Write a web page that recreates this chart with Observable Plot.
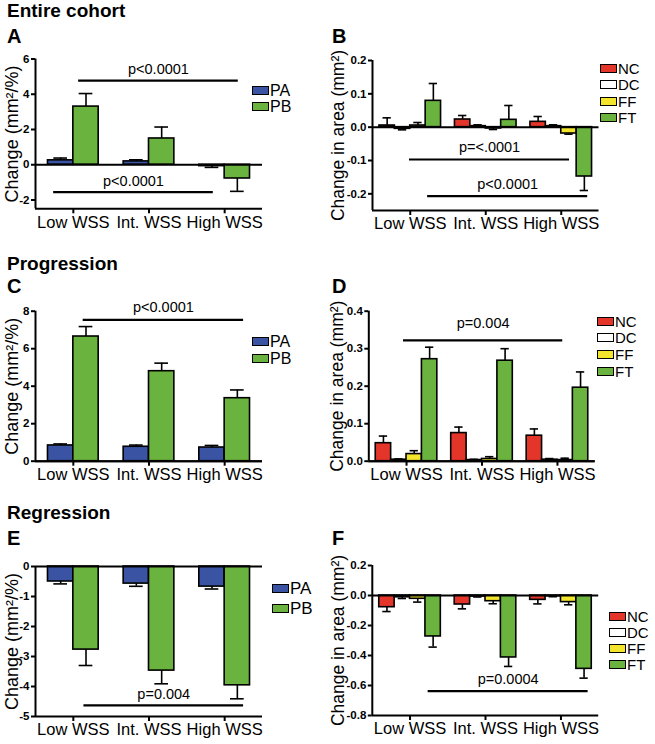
<!DOCTYPE html>
<html>
<head>
<meta charset="utf-8">
<script src="https://cdn.jsdelivr.net/npm/d3@7"></script>
<script src="https://cdn.jsdelivr.net/npm/@observablehq/plot@0.6"></script>
<style>
  body { margin: 0; background: #fff; }
  #fig { position: relative; width: 655px; height: 744px; font-family: 'Liberation Sans', Arial, Helvetica, sans-serif; overflow: hidden; }
  .abs { position: absolute; }
  .title { font-weight: bold; font-size: 19px; line-height: 19px; white-space: nowrap; }
  .letter { font-weight: bold; font-size: 20px; line-height: 20px; }
  .leg { position: absolute; display: flex; align-items: center; height: 13px; line-height: 13px; white-space: nowrap; }
  .sw { width: 17px; height: 9px; box-sizing: border-box; border: 1.8px solid #000; margin-right: 1px; }
</style>
</head>
<body>
<div id="fig"></div>
<script>
// ---------- data ----------
const categories = ["Low WSS", "Int. WSS", "High WSS"];
const plaqueSeries = ["PA", "PB"];
const tissueSeries = ["NC", "DC", "FF", "FT"];

// A: entire cohort, plaque change (mm²/%)
const entirePA    = [0.25, 0.19, -0.08];
const entirePAErr = [0.38, 0.28, -0.15];
const entirePB    = [3.30, 1.49, -0.78];
const entirePBErr = [4.04, 2.14, -1.51];

// B: entire cohort, change in area (mm²)
const entireNC    = [0.005, 0.023, 0.016];
const entireNCErr = [0.028, 0.035, 0.032];
const entireDC    = [-0.005, 0.003, 0.003];
const entireDCErr = [-0.008, 0.007, 0.007];
const entireFF    = [0.005, -0.004, -0.019];
const entireFFErr = [0.014, -0.007, -0.021];
const entireFT    = [0.079, 0.022, -0.148];
const entireFTErr = [0.131, 0.065, -0.190];

// C: progression, plaque change
const progPA    = [0.84, 0.77, 0.73];
const progPAErr = [0.92, 0.86, 0.84];
const progPB    = [6.65, 4.80, 3.36];
const progPBErr = [7.18, 5.23, 3.80];

// D: progression, change in area
const progNC    = [0.048, 0.075, 0.068];
const progNCErr = [0.067, 0.091, 0.086];
const progDC    = [0.004, 0.003, 0.004];
const progDCErr = [0.006, 0.005, 0.007];
const progFF    = [0.019, 0.006, 0.003];
const progFFErr = [0.028, 0.012, 0.008];
const progFT    = [0.272, 0.268, 0.196];
const progFTErr = [0.304, 0.300, 0.238];

// E: regression, plaque change
const regPA    = [-0.50, -0.57, -0.67];
const regPAErr = [-0.58, -0.66, -0.75];
const regPB    = [-2.77, -3.47, -3.96];
const regPBErr = [-3.30, -3.91, -4.41];

// F: regression, change in area
const regNC    = [-0.078, -0.060, -0.029];
const regNCErr = [-0.107, -0.089, -0.056];
const regDC    = [-0.012, -0.007, -0.005];
const regDCErr = [-0.020, -0.010, -0.008];
const regFF    = [-0.022, -0.038, -0.044];
const regFFErr = [-0.044, -0.055, -0.062];
const regFT    = [-0.273, -0.413, -0.489];
const regFTErr = [-0.344, -0.473, -0.551];

// significance brackets (x in category units, y in data units)
const sigA = [{x1: 0.07, x2: 2.18, y: 4.77, label: "p<0.0001"}, {x1: -0.26, x2: 1.85, y: -1.55, label: "p<0.0001"}];
const sigB = [{x1: -0.01, x2: 2.11, y: -0.097, label: "p=<.0001"}, {x1: 0.23, x2: 2.35, y: -0.207, label: "p<0.0001"}];
const sigC = [{x1: 0.13, x2: 2.25, y: 7.54, label: "p<0.0001"}];
const sigD = [{x1: -0.04, x2: 2.07, y: 0.322, label: "p=0.004"}];
const sigE = [{x1: 0.14, x2: 2.25, y: -4.63, label: "p=0.004"}];
const sigF = [{x1: 0.24, x2: 2.36, y: -0.638, label: "p=0.0004"}];

// axis ticks
const ticksA = [-2, 0, 2, 4, 6];
const ticksB = [-0.2, -0.1, 0, 0.1, 0.2];
const ticksC = [0, 2, 4, 6, 8];
const ticksD = [0, 0.1, 0.2, 0.3, 0.4];
const ticksE = [0, -1, -2, -3, -4, -5];
const ticksF = [0.2, 0, -0.2, -0.4, -0.6, -0.8];

const colors = {PA: "#3a54a3", PB: "#6ab33e", NC: "#e4352a", DC: "#ffffff", FF: "#f3e52c", FT: "#6ab33e"};

// ---------- drawing ----------
const FONT = "'Liberation Sans', Arial, Helvetica, sans-serif";
const fig = document.getElementById("fig");

function panel(cfg) {
  const {series, values, errors, sig, yDomain, yTicks, yFmt, yLabel, box, m, bw, sigDy, labelX, labelSize} = cfg;
  const n = series.length;
  const rows = [];
  categories.forEach((c, i) => series.forEach((s, j) => rows.push({i, j, s, v: values[j][i], e: errors[j][i]})));
  const x1 = d => d.i + (d.j - n / 2) * bw;
  const cx = d => x1(d) + bw / 2;
  const svg = Plot.plot({
    width: box.w, height: box.h,
    marginLeft: m.l, marginRight: m.r, marginTop: m.t, marginBottom: m.b,
    x: {domain: [-0.5, 2.5]},
    y: {domain: yDomain},
    style: {background: "transparent", overflow: "visible", fontFamily: FONT, color: "#000"},
    marks: [
      Plot.ruleX(rows, {x: cx, y1: "v", y2: "e", stroke: "#000", strokeWidth: 1.6}),
      Plot.ruleY(rows, {y: "e", x1: d => cx(d) - bw * 0.27, x2: d => cx(d) + bw * 0.27, stroke: "#000", strokeWidth: 1.6}),
      Plot.rect(rows, {x1: x1, x2: d => x1(d) + bw, y1: 0, y2: "v", fill: d => colors[d.s], stroke: "#000", strokeWidth: 1.6}),
      Plot.ruleY([0], {stroke: "#000", strokeWidth: 2}),
      Plot.ruleY([yDomain[0]], {stroke: "#000", strokeWidth: 2}),
      Plot.ruleX([-0.5], {y1: yDomain[0], y2: yDomain[1], stroke: "#000", strokeWidth: 2}),
      Plot.ruleY(sig, {y: "y", x1: "x1", x2: "x2", stroke: "#000", strokeWidth: 2.2}),
      Plot.text(sig, {x: d => (d.x1 + d.x2) / 2, y: "y", text: "label", dy: sigDy, fontSize: 14.5, fill: "#000"}),
      Plot.axisY({ticks: yTicks, tickFormat: yFmt, tickSize: 4, tickPadding: 2, fontSize: 11.5, fontWeight: "bold", strokeWidth: 2, label: null}),
      Plot.axisX({ticks: [0, 1, 2], tickFormat: i => categories[i], tickSize: 5, tickPadding: 2, fontSize: 16.5, strokeWidth: 2, label: null}),
      Plot.text([yLabel], {frameAnchor: "left", textAnchor: "middle", rotate: -90, dx: labelX - m.l, text: d => d, fontSize: labelSize, fill: "#000"})
    ]
  });
  svg.style.position = "absolute";
  svg.style.left = box.x + "px";
  svg.style.top = box.y + "px";
  fig.appendChild(svg);
}

function text(cls, str, x, y) {
  const d = document.createElement("div");
  d.className = "abs " + cls;
  d.textContent = str;
  d.style.left = x + "px";
  d.style.top = y + "px";
  fig.appendChild(d);
}

function legend(series, x, rowYs, size) {
  series.forEach((s, k) => {
    const d = document.createElement("div");
    d.className = "leg";
    d.style.left = x + "px";
    d.style.top = (rowYs[k] - 6.5) + "px";
    d.style.fontSize = size + "px";
    const sw = document.createElement("span");
    sw.className = "sw";
    sw.style.background = colors[s];
    const t = document.createElement("span");
    t.textContent = s;
    d.appendChild(sw);
    d.appendChild(t);
    fig.appendChild(d);
  });
}

const fmtInt = d => String(d);
const fmt1 = d => d.toFixed(1);

panel({series: plaqueSeries, values: [entirePA, entirePB], errors: [entirePAErr, entirePBErr], sig: sigA,
  yDomain: [-2.5, 6], yTicks: ticksA, yFmt: fmtInt, yLabel: "Change (mm²/%)",
  box: {x: 0, y: 0, w: 330, h: 240}, m: {l: 35, r: 68, t: 58.5, b: 31.7}, bw: 0.335, sigDy: -11, labelX: 12, labelSize: 18});
panel({series: tissueSeries, values: [entireNC, entireDC, entireFF, entireFT], errors: [entireNCErr, entireDCErr, entireFFErr, entireFTErr], sig: sigB,
  yDomain: [-0.25, 0.2], yTicks: ticksB, yFmt: fmt1, yLabel: "Change in area (mm²)",
  box: {x: 330, y: 0, w: 325, h: 240}, m: {l: 42, r: 56.5, t: 60, b: 30}, bw: 0.204, sigDy: -12, labelX: 8, labelSize: 17.5});
panel({series: plaqueSeries, values: [progPA, progPB], errors: [progPAErr, progPBErr], sig: sigC,
  yDomain: [0, 8], yTicks: ticksC, yFmt: fmtInt, yLabel: "Change (mm²/%)",
  box: {x: 0, y: 240, w: 330, h: 240}, m: {l: 35, r: 68, t: 70.7, b: 19.3}, bw: 0.335, sigDy: -12.5, labelX: 12, labelSize: 18});
panel({series: tissueSeries, values: [progNC, progDC, progFF, progFT], errors: [progNCErr, progDCErr, progFFErr, progFTErr], sig: sigD,
  yDomain: [0, 0.4], yTicks: ticksD, yFmt: fmt1, yLabel: "Change in area (mm²)",
  box: {x: 330, y: 240, w: 325, h: 240}, m: {l: 38.3, r: 60.3, t: 70.7, b: 19.3}, bw: 0.204, sigDy: -17, labelX: 7, labelSize: 17.5});
panel({series: plaqueSeries, values: [regPA, regPB], errors: [regPAErr, regPBErr], sig: sigE,
  yDomain: [-5, 0], yTicks: ticksE, yFmt: fmtInt, yLabel: "Change (mm²/%)",
  box: {x: 0, y: 480, w: 330, h: 264}, m: {l: 35, r: 68, t: 86, b: 28}, bw: 0.335, sigDy: -11, labelX: 12, labelSize: 18});
panel({series: tissueSeries, values: [regNC, regDC, regFF, regFT], errors: [regNCErr, regDCErr, regFFErr, regFTErr], sig: sigF,
  yDomain: [-0.8, 0.2], yTicks: ticksF, yFmt: fmt1, yLabel: "Change in area (mm²)",
  box: {x: 330, y: 480, w: 325, h: 264}, m: {l: 41.8, r: 56.8, t: 85, b: 29}, bw: 0.204, sigDy: -11.7, labelX: 8, labelSize: 17.5});

// headings and panel letters
text("title", "Entire cohort", 7, 1);
text("letter", "A", 7, 26);
text("letter", "B", 332, 26);
text("title", "Progression", 7, 254);
text("letter", "C", 7, 276);
text("letter", "D", 332, 276);
text("title", "Regression", 7, 503);
text("letter", "E", 7, 528);
text("letter", "F", 332, 528);

// legends
legend(plaqueSeries, 252, [90, 106], 16);
legend(tissueSeries, 600, [68, 84.5, 101, 117.5], 15);
legend(plaqueSeries, 252, [341, 358], 16);
legend(tissueSeries, 597, [321, 337.7, 354.3, 371], 15);
legend(plaqueSeries, 272, [588, 608], 17);
legend(tissueSeries, 609, [616, 632, 648, 664], 15);
</script>
</body>
</html>
